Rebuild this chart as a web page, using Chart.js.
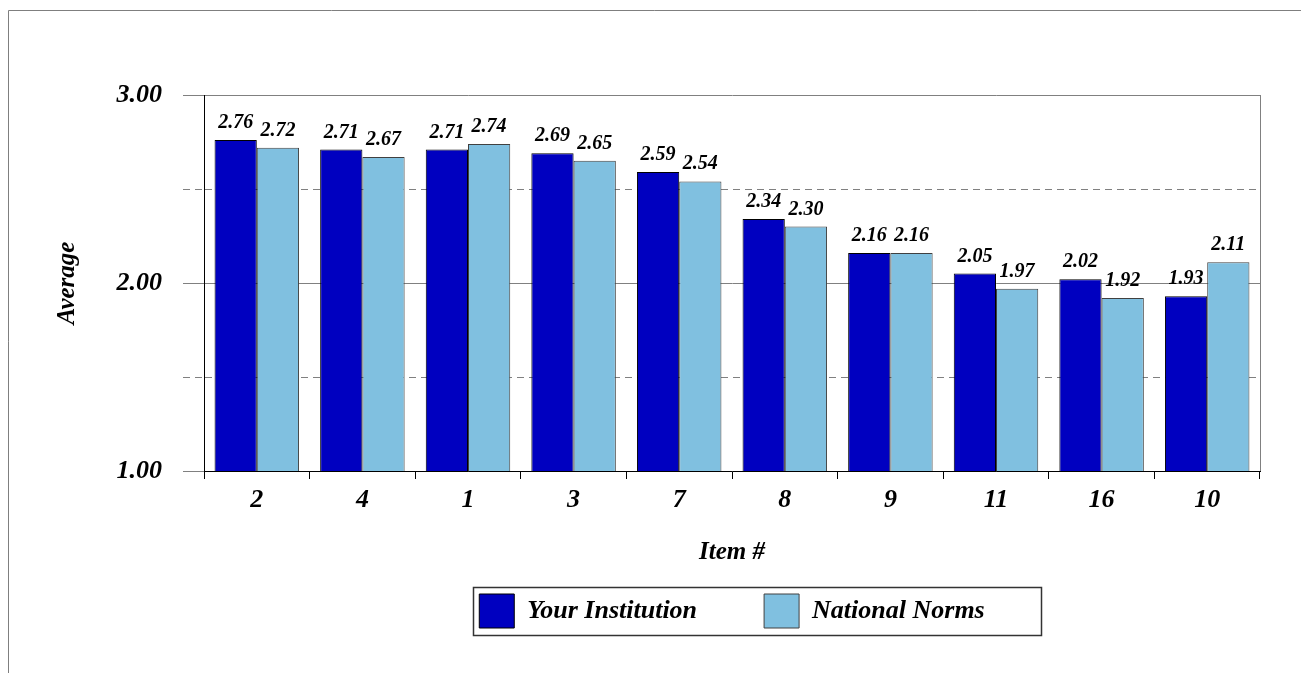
<!DOCTYPE html>
<html>
<head>
<meta charset="utf-8">
<script src="https://cdn.jsdelivr.net/npm/chart.js@4.4.0/dist/chart.umd.min.js"></script>
<style>
  html, body { margin: 0; padding: 0; background: #fff; }
  #wrap { position: relative; width: 1301px; height: 673px; }
</style>
</head>
<body>
<div id="wrap"><canvas id="myChart"></canvas></div>
<script>
const categories = ['2', '4', '1', '3', '7', '8', '9', '11', '16', '10'];
const yourInstitution = [2.76, 2.71, 2.71, 2.69, 2.59, 2.34, 2.16, 2.05, 2.02, 1.93];
const nationalNorms = [2.72, 2.67, 2.74, 2.65, 2.54, 2.30, 2.16, 1.97, 1.92, 2.11];
const yMin = 1, yMax = 3, yStep = 0.5;

const serif = "'Liberation Serif', 'Times New Roman', serif";
const bi = (size) => ({ family: serif, size: size, style: 'italic', weight: 'bold' });

// value labels above each bar
const barLabels = {
  id: 'barLabels',
  afterDatasetsDraw(chart) {
    const ctx = chart.ctx;
    ctx.save();
    ctx.font = 'italic bold 20px ' + serif;
    ctx.fillStyle = '#000';
    ctx.textAlign = 'center';
    ctx.textBaseline = 'alphabetic';
    chart.data.datasets.forEach((ds, i) => {
      chart.getDatasetMeta(i).data.forEach((bar, j) => {
        ctx.fillText(ds.data[j].toFixed(2), bar.x, bar.y - 12);
      });
    });
    ctx.restore();
  }
};

// outer frame, right edge of plot, box round the legend
const frame = {
  id: 'frame',
  beforeDraw(chart) {
    const ctx = chart.ctx;
    ctx.save();
    ctx.strokeStyle = '#7f7f7f';
    ctx.lineWidth = 1;
    ctx.beginPath();
    ctx.moveTo(8.5, chart.height);
    ctx.lineTo(8.5, 10.5);
    ctx.lineTo(chart.width, 10.5);
    ctx.stroke();
    ctx.restore();
  },
  afterDraw(chart) {
    const ctx = chart.ctx;
    const a = chart.chartArea;
    ctx.save();
    ctx.strokeStyle = '#808080';
    ctx.lineWidth = 1;
    ctx.beginPath();
    ctx.moveTo(Math.round(a.right) + 0.5, a.top);
    ctx.lineTo(Math.round(a.right) + 0.5, a.bottom);
    ctx.stroke();

    const hb = chart.legend.legendHitBoxes;
    if (hb && hb.length) {
      const first = hb[0], last = hb[hb.length - 1];
      const x0 = Math.round(first.left - 6) + 0.5;
      const x1 = Math.round(last.left + last.width + 56) + 0.5;
      const y0 = Math.round(first.top - 7) + 0.5;
      const y1 = Math.round(first.top + first.height + 7) + 0.5;
      ctx.strokeStyle = '#333';
      ctx.lineWidth = 1.5;
      ctx.strokeRect(x0, y0, x1 - x0, y1 - y0);
    }
    ctx.restore();
  }
};

const canvas = document.getElementById('myChart');
const ctx = canvas.getContext('2d');

const chart = new Chart(ctx, {
  type: 'bar',
  data: {
    labels: categories,
    datasets: [{
      label: 'Your Institution',
      data: yourInstitution,
      backgroundColor: '#0000C0',
      borderColor: '#000000',
      borderWidth: 1,
      categoryPercentage: 0.8,
      barPercentage: 1.0
    }, {
      label: 'National Norms',
      data: nationalNorms,
      backgroundColor: '#80C0E0',
      borderColor: '#404040',
      borderWidth: 1,
      categoryPercentage: 0.8,
      barPercentage: 1.0
    }]
  },
  options: {
    responsive: true,
    maintainAspectRatio: false,
    animation: false,
    layout: { padding: { top: 95, right: 41, bottom: 35, left: 0 } },
    plugins: {
      legend: {
        position: 'bottom',
        fullSize: false,
        labels: { boxWidth: 35, boxHeight: 34, padding: 67, color: '#000', font: bi(26) }
      },
      tooltip: { enabled: false }
    },
    scales: {
      x: {
        offset: true,
        grid: { offset: true, drawOnChartArea: false, tickLength: 8, tickColor: '#000' },
        border: { color: '#000', width: 1 },
        ticks: { color: '#000', padding: 6, font: bi(26) },
        title: { display: true, text: 'Item #', color: '#000', font: bi(25), padding: { top: 0, bottom: -41 } },
        afterFit(scale) { scale.height = 56; }
      },
      y: {
        min: yMin,
        max: yMax,
        ticks: {
          stepSize: yStep,
          padding: 21,
          color: '#000',
          font: bi(26),
          callback: (v) => (v % 1 === 0 ? v.toFixed(2) : '')
        },
        grid: {
          color: '#808080',
          tickColor: '#808080',
          tickLength: 21,
          tickBorderDash: (c) => (c.tick && c.tick.value % 1 !== 0 ? [7, 5] : [])
        },
        border: {
          color: '#000',
          width: 1,
          dash: (c) => (c.tick && c.tick.value % 1 !== 0 ? [7, 5] : [])
        },
        title: { display: true, text: 'Average', color: '#000', font: bi(25), padding: { top: 53, bottom: 0 } },
        afterFit(scale) { scale.width = 204; }
      }
    }
  },
  plugins: [barLabels, frame]
});
</script>
</body>
</html>
